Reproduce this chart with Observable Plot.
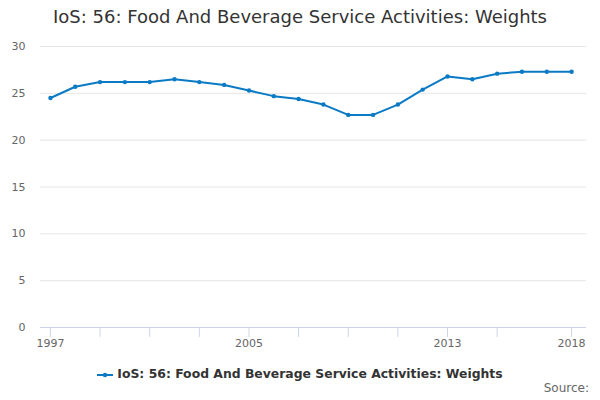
<!DOCTYPE html>
<html>
<head>
<meta charset="utf-8">
<script src="https://cdn.jsdelivr.net/npm/d3@7"></script>
<script src="https://cdn.jsdelivr.net/npm/@observablehq/plot@0.6"></script>
<style>
  body { margin: 0; background: #fff; font-family: "DejaVu Sans", sans-serif; }
  #wrap { position: relative; width: 600px; height: 400px; }
  #title { position: absolute; top: 6px; left: 0; width: 600px; text-align: center; font-size: 18px; color: #333; }
  #chart { position: absolute; top: 36px; left: 0; }
  #legend { position: absolute; top: 366px; left: 0; width: 600px; text-align: center; font-size: 12.4px; font-weight: bold; color: #333; }
  #legend svg { vertical-align: middle; margin-right: 4px; }
  #source { position: absolute; top: 381px; right: 11px; font-size: 12px; color: #666; }
</style>
</head>
<body>
<div id="wrap">
  <div id="title">IoS: 56: Food And Beverage Service Activities: Weights</div>
  <div id="chart"></div>
  <div id="legend"><svg width="16" height="10"><line x1="0" y1="5" x2="16" y2="5" stroke="#0a7ac4" stroke-width="2"/><circle cx="8" cy="5" r="2.2" fill="#0a7ac4"/></svg>IoS: 56: Food And Beverage Service Activities: Weights</div>
  <div id="source">Source:</div>
</div>
<script>
const years = [1997,1998,1999,2000,2001,2002,2003,2004,2005,2006,2007,2008,2009,2010,2011,2012,2013,2014,2015,2016,2017,2018];
const weights = [24.5,25.7,26.2,26.2,26.2,26.5,26.2,25.9,25.3,24.7,24.4,23.8,22.7,22.7,23.8,25.4,26.8,26.5,27.1,27.3,27.3,27.3];
const yTicks = [0,5,10,15,20,25,30];
const xTickMarks = [1997,1999,2001,2003,2005,2007,2009,2011,2013,2015,2018];
const xTickLabels = [1997,2005,2013,2018];

const data = years.map((y, i) => ({year: y, value: weights[i]}));
const color = "#0a7ac4";

const chart = Plot.plot({
  width: 600,
  height: 320,
  marginLeft: 40,
  marginRight: 14,
  marginTop: 10,
  marginBottom: 29,
  style: { fontFamily: "DejaVu Sans, sans-serif", fontSize: "11px", color: "#666", background: "transparent" },
  x: { domain: [1996.6, 2018.6] },
  y: { domain: [0, 30] },
  marks: [
    Plot.gridY(yTicks.filter(d => d > 0), { stroke: "#e6e6e6", strokeOpacity: 1 }),
    Plot.ruleY([0], { stroke: "#ccd6eb", strokeWidth: 1 }),
    Plot.axisY(yTicks, { tickSize: 0, tickPadding: 15, fill: "#666", label: null }),
    Plot.axisX(xTickMarks, { tickSize: 10, stroke: "#ccd6eb", tickFormat: d => xTickLabels.includes(d) ? String(d) : "", tickPadding: 2, fill: "#666", label: null }),
    Plot.line(data, { x: "year", y: "value", stroke: color, strokeWidth: 2 }),
    Plot.dot(data, { x: "year", y: "value", fill: color, r: 2.2 })
  ]
});
document.getElementById("chart").appendChild(chart);
</script>
</body>
</html>
